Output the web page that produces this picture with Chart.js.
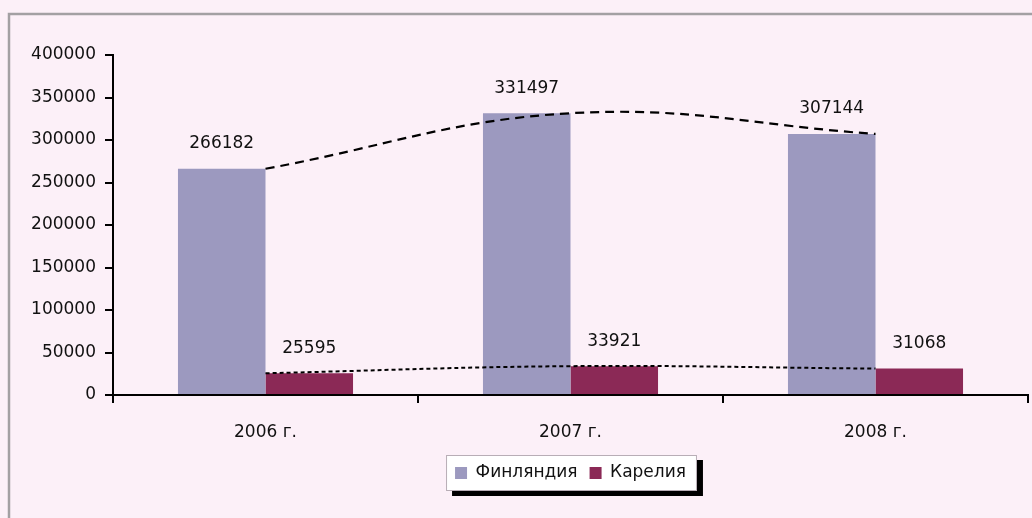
<!DOCTYPE html>
<html>
<head>
<meta charset="utf-8">
<script src="https://cdn.jsdelivr.net/npm/chart.js@4/dist/chart.umd.min.js"></script>
<style>
  html, body { margin: 0; padding: 0; background: #fcf0f8; }
  #wrap { position: relative; width: 1032px; height: 518px; }
  canvas { display: block; }
</style>
</head>
<body>
<div id="wrap"><canvas id="c" width="1032" height="518"></canvas></div>
<script>
const categories = ['2006 г.', '2007 г.', '2008 г.'];
const seriesNames = ['Финляндия', 'Карелия'];
const finland = [266182, 331497, 307144];
const karelia = [25595, 33921, 31068];
const yTickMin = 0, yTickMax = 400000, yTickStep = 50000;

const FONT = 'DejaVu Sans';
const FS = 17;
const TXT = '#111111';
const C_FIN = '#9c99bf';
const C_KAR = '#8b2956';

const framePlugin = {
  id: 'frame',
  beforeDraw(chart) {
    const ctx = chart.ctx;
    ctx.save();
    ctx.fillStyle = '#fcf0f8';
    ctx.fillRect(0, 0, chart.width, chart.height);
    ctx.strokeStyle = '#a3a0a3';
    ctx.lineWidth = 2.5;
    ctx.beginPath();
    ctx.moveTo(9, chart.height + 5);
    ctx.lineTo(9, 14);
    ctx.lineTo(chart.width + 5, 14);
    ctx.stroke();
    // legend box with shadow
    const lg = chart.legend;
    if (lg && lg.legendHitBoxes && lg.legendHitBoxes.length) {
      const hb = lg.legendHitBoxes;
      const l = Math.min(...hb.map(h => h.left)) - 9;
      const r = Math.max(...hb.map(h => h.left + h.width)) + 11;
      const t = Math.min(...hb.map(h => h.top)) - 9.5;
      const b = Math.max(...hb.map(h => h.top + h.height)) + 9.5;
      ctx.fillStyle = '#000';
      ctx.fillRect(l + 6, t + 5, r - l, b - t);
      ctx.fillStyle = '#ffffff';
      ctx.fillRect(l, t, r - l, b - t);
      ctx.strokeStyle = '#b8adb6';
      ctx.lineWidth = 1;
      ctx.strokeRect(l + 0.5, t + 0.5, r - l - 1, b - t - 1);
    }
    ctx.restore();
  }
};

const labelPlugin = {
  id: 'vlabels',
  afterDatasetsDraw(chart) {
    const ctx = chart.ctx;
    ctx.save();
    ctx.font = FS + 'px "' + FONT + '"';
    ctx.fillStyle = TXT;
    ctx.textAlign = 'center';
    ctx.textBaseline = 'middle';
    chart.data.datasets.forEach((ds, di) => {
      if (ds.type === 'line') return;
      const meta = chart.getDatasetMeta(di);
      meta.data.forEach((el, i) => {
        ctx.fillText(String(ds.data[i]), el.x, el.y - 25);
      });
    });
    ctx.restore();
  }
};

new Chart(document.getElementById('c'), {
  type: 'bar',
  data: {
    labels: categories,
    datasets: [
      { label: seriesNames[0], data: finland, backgroundColor: C_FIN, borderWidth: 0, order: 2,
        barPercentage: 1.0, categoryPercentage: 0.574 },
      { label: seriesNames[1], data: karelia, backgroundColor: C_KAR, borderWidth: 0, order: 2,
        barPercentage: 1.0, categoryPercentage: 0.574 },
      { type: 'line', label: 'trend1', data: finland, borderColor: '#000', borderWidth: 2.2,
        borderDash: [9, 6], pointRadius: 0, tension: 0.4, fill: false, order: 0 },
      { type: 'line', label: 'trend2', data: karelia, borderColor: '#000', borderWidth: 2,
        borderDash: [4, 3], pointRadius: 0, tension: 0.4, fill: false, order: 0 }
    ]
  },
  options: {
    responsive: false,
    animation: false,
    devicePixelRatio: 1,
    layout: { padding: { top: 55, left: 0, right: 4, bottom: 26.5 } },
    plugins: {
      tooltip: { enabled: false },
      legend: {
        position: 'bottom',
        fullSize: false,
        labels: {
          filter: (item) => item.datasetIndex < 2,
          boxWidth: 12, boxHeight: 12, padding: 12,
          color: TXT,
          font: { family: FONT, size: FS }
        }
      }
    },
    scales: {
      x: {
        offset: true,
        border: { color: '#000', width: 2 },
        grid: { offset: true, drawOnChartArea: false, drawTicks: true, tickLength: 8, color: '#000', lineWidth: 2 },
        ticks: { color: TXT, padding: 19, font: { family: FONT, size: FS } },
        afterFit(scale) { scale.height = 57.5; }
      },
      y: {
        min: yTickMin, max: yTickMax,
        border: { color: '#000', width: 2 },
        grid: { drawOnChartArea: false, drawTicks: true, tickLength: 8, color: '#000', lineWidth: 2 },
        ticks: { stepSize: yTickStep, color: TXT, padding: 9, font: { family: FONT, size: FS },
                 callback: (v) => String(v) },
        afterFit(scale) { scale.width = 113; }
      }
    }
  },
  plugins: [framePlugin, labelPlugin]
});
</script>
</body>
</html>
